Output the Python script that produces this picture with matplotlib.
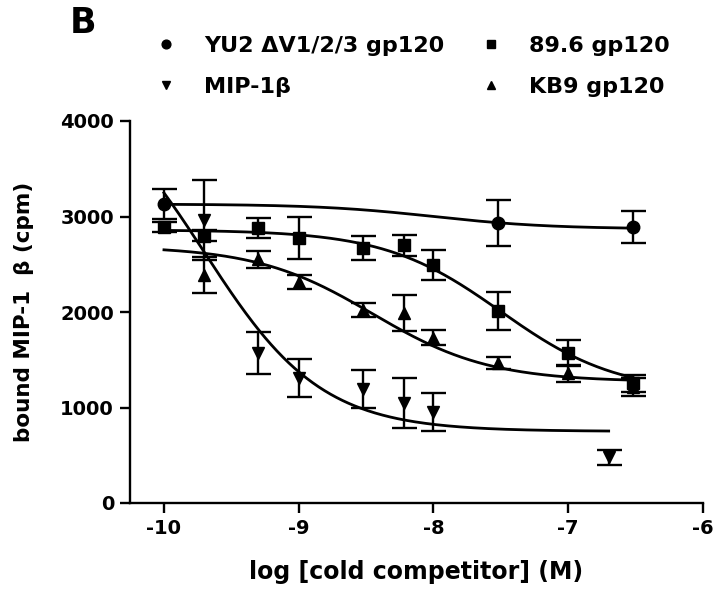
import numpy as np
import matplotlib
matplotlib.use("Agg")
import matplotlib.pyplot as plt

# log concentrations (M) and bound MIP-1b (cpm)
yu2_x = [-10.0, -7.52, -6.52]
yu2_y = [3130, 2930, 2890]
yu2_err = [155, 240, 170]

c896_x = [-10.0, -9.7, -9.3, -9.0, -8.52, -8.22, -8.0, -7.52, -7.0, -6.52]
c896_y = [2890, 2800, 2880, 2770, 2670, 2700, 2490, 2010, 1570, 1255]
c896_err = [50, 60, 100, 220, 125, 110, 160, 200, 140, 90]

kb9_x = [-9.7, -9.3, -9.0, -8.52, -8.22, -8.0, -7.52, -7.0, -6.52]
kb9_y = [2390, 2550, 2315, 2020, 1990, 1730, 1465, 1360, 1215]
kb9_err = [190, 90, 70, 70, 190, 80, 60, 90, 90]

mip_x = [-9.7, -9.3, -9.0, -8.52, -8.22, -8.0, -6.7]
mip_y = [2960, 1570, 1310, 1190, 1045, 955, 480]
mip_err = [420, 220, 200, 200, 260, 200, 80]

# one-site competition fits: top, bottom, logEC50, x range
fit_yu2 = (3130, 2870, -8.0, -6.52)
fit_896 = (2860, 1150, -7.5, -6.52)
fit_kb9 = (2690, 1270, -8.45, -6.52)
fit_mip = (4500, 750, -9.7, -6.7)


def curve(fit):
    top, bottom, ec50, xend = fit
    xs = np.linspace(-10.0, xend, 300)
    return xs, bottom + (top - bottom) / (1 + 10 ** (xs - ec50))


plt.rcParams['font.family'] = ['DejaVu Sans']
plt.rcParams['font.weight'] = 'bold'

fig = plt.figure(figsize=(7.2, 5.92), dpi=100)
ax = fig.add_axes([130 / 720, 1 - 503 / 592, (703 - 130) / 720, (503 - 121) / 592])

ebkw = dict(color='black', ecolor='black', elinewidth=1.7, capsize=9, capthick=1.7,
            linestyle='none', markersize=9, clip_on=False)
ax.errorbar(c896_x, c896_y, yerr=c896_err, marker='s', label='89.6 gp120', **ebkw)
ax.errorbar(kb9_x, kb9_y, yerr=kb9_err, marker='^', label='KB9 gp120', **ebkw)
ax.errorbar(mip_x, mip_y, yerr=mip_err, marker='v', label='MIP-1β', **ebkw)
ax.errorbar(yu2_x, yu2_y, yerr=yu2_err, marker='o', label='YU2 ΔV1/2/3 gp120', **ebkw)

for f in (fit_yu2, fit_896, fit_kb9, fit_mip):
    xs, ys = curve(f)
    ax.plot(xs, ys, color='black', lw=2.0)

ax.set_xlim(-10.252, -6)
ax.set_ylim(0, 4000)
ax.set_xticks([-10, -9, -8, -7, -6])
ax.set_xticklabels(['-10', '-9', '-8', '-7', '-6'])
ax.set_yticks([0, 1000, 2000, 3000, 4000])
for s in ['top', 'right']:
    ax.spines[s].set_visible(False)
for s in ['left', 'bottom']:
    ax.spines[s].set_linewidth(1.7)
ax.tick_params(direction='out', length=7.5, width=1.7, labelsize=14, pad=4)
ax.set_xlabel('log [cold competitor] (M)', fontsize=17, fontweight='bold', labelpad=16)
ax.set_ylabel('bound MIP-1  β (cpm)', fontsize=15.5, fontweight='bold', labelpad=19)

h, l = ax.get_legend_handles_labels()
order = [3, 2, 0, 1]
fig.legend([h[i][0] for i in order], [l[i] for i in order], ncol=2, frameon=False,
           loc='upper left', bbox_to_anchor=(155 / 720, 1 - 36 / 592),
           markerscale=0.7, handlelength=1.0, handletextpad=1.2, columnspacing=1.6,
           labelspacing=0.95, borderpad=0, borderaxespad=0,
           prop={'weight': 'bold', 'size': 16})

fig.text(83 / 720, 1 - 23 / 592, 'B', fontsize=25, fontweight='bold', ha='center', va='center')

fig.savefig('out.png', dpi=100)
